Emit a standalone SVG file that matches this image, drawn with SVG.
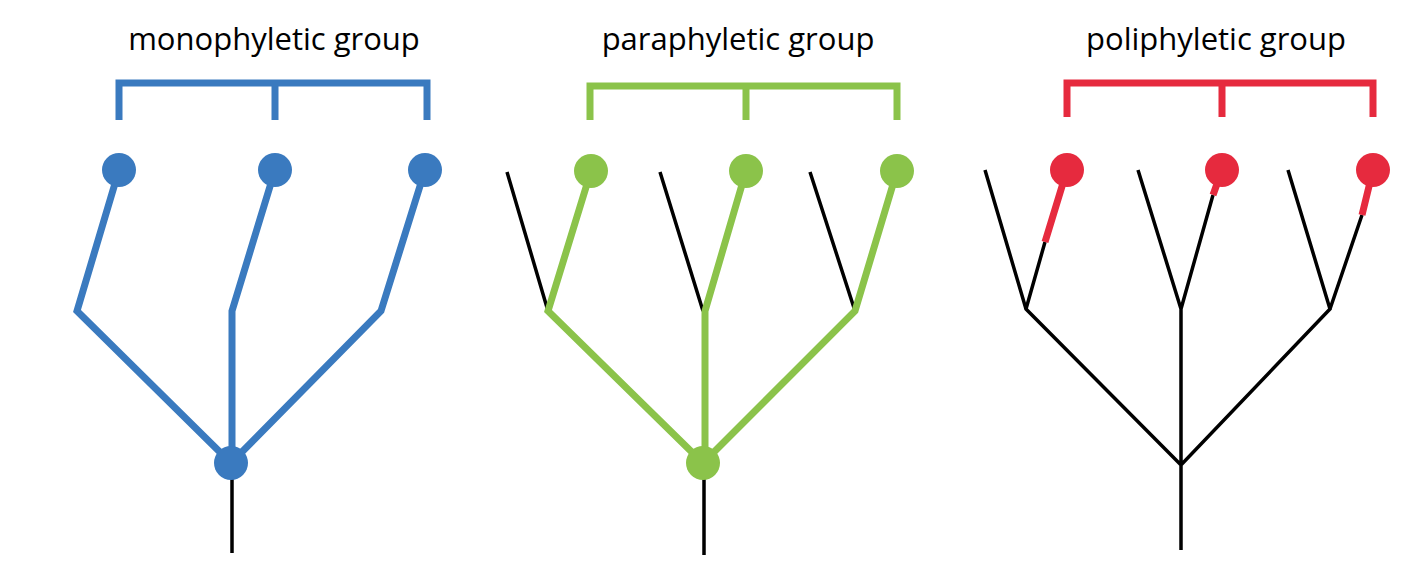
<svg xmlns="http://www.w3.org/2000/svg" width="1420" height="582" viewBox="0 0 1420 582">
<style>
.t{font-family:"Open Sans","Liberation Sans",sans-serif;font-size:31px;fill:#000;text-anchor:middle}
.k{stroke:#000;stroke-width:3.5;fill:none}
.b{stroke:#3a7abf;stroke-width:7;fill:none}
.g{stroke:#8bc34a;stroke-width:7;fill:none}
.r{stroke:#e62a3e;stroke-width:7;fill:none}
</style>
<rect width="1420" height="582" fill="#fff"/>
<text class="t" x="274" y="50">monophyletic group</text>
<text class="t" x="738" y="50">paraphyletic group</text>
<text class="t" x="1216" y="50">poliphyletic group</text>
<g id="connectors">
<path class="k" d="M232 463V553"/>
<path class="b" d="M119 120V83H427V120M275 83V120"/>
<path class="b" d="M119 170L77 311L231 463M275 170L232 311V463M425 170L381 311L231 463"/>
<path class="k" d="M507 172L548 311M660 172L703 311M810 172L855 311M704 463V555"/>
<path class="g" d="M590 120V86H897V120M746 86V120"/>
<path class="g" d="M591 171L548 311L703 463M746 171L705 311V463M897 171L855 311L703 463"/>
<path class="k" d="M985 170L1026 309L1181 465L1330 309L1288 170M1138 170L1181 309V550M1026 309L1045 242M1181 309L1213 195M1330 309L1362 215"/>
<path class="r" d="M1067 117V83H1373V117M1222 83V117"/>
<path class="r" d="M1045 242L1067 170M1213 195L1222 170M1362 215L1373 170"/>
</g>
<g id="n-blue" fill="#3a7abf"><circle cx="119" cy="170" r="17"/><circle cx="275" cy="170" r="17"/><circle cx="425" cy="170" r="17"/><circle cx="231" cy="463" r="17"/></g>
<g id="n-green" fill="#8bc34a"><circle cx="591" cy="171" r="17"/><circle cx="746" cy="171" r="17"/><circle cx="897" cy="171" r="17"/><circle cx="703" cy="463" r="17"/></g>
<g id="n-red" fill="#e62a3e"><circle cx="1067" cy="170" r="17"/><circle cx="1222" cy="170" r="17"/><circle cx="1373" cy="170" r="17"/></g>
</svg>
